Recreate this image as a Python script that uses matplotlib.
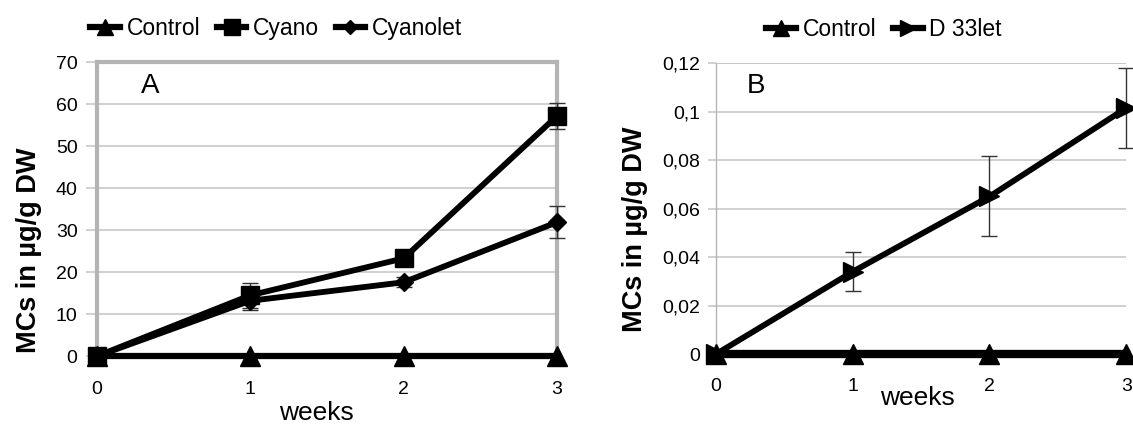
import numpy as np
import matplotlib.pyplot as plt
from matplotlib.lines import Line2D

plt.rcParams['font.family'] = ['Liberation Sans', 'DejaVu Sans']

weeks = [0, 1, 2, 3]

# panel A
control_a = [0, 0, 0, 0]
cyano = [0, 14.5, 23.3, 57.2]
cyano_err = [0, 3.0, 0, 3.1]
cyanolet = [0, 13.2, 17.6, 31.9]
cyanolet_err = [0, 2.2, 1.2, 3.8]

# panel B
control_b = [0, 0, 0, 0]
d33let = [0, 0.034, 0.065, 0.1015]
d33let_err = [0, 0.008, 0.0165, 0.0165]
b_ticklabels = ['0', '0,02', '0,04', '0,06', '0,08', '0,1', '0,12']

grid_col = '#c8c8c8'
frame_col = '#b4b4b4'


def leg_handle(marker, ms):
    return Line2D([], [], color='black', lw=4.5, marker=marker, ms=ms)


fig = plt.figure(figsize=(11.33, 4.24), dpi=100)
axA = fig.add_axes([0.0856, 0.160, 0.406, 0.693])
axB = fig.add_axes([0.632, 0.165, 0.362, 0.686])

# ---- panel A
axA.errorbar(weeks, cyano, yerr=cyano_err, color='black', lw=4.2, marker='s', ms=13,
             ecolor='#333333', elinewidth=1, capsize=6, capthick=1,
             clip_on=False, zorder=4)
axA.errorbar(weeks, cyanolet, yerr=cyanolet_err, color='black', lw=4.2, marker='D', ms=9,
             ecolor='#333333', elinewidth=1, capsize=6, capthick=1,
             clip_on=False, zorder=4)
axA.plot(weeks, control_a, color='black', lw=4.5, marker='^', ms=14,
         clip_on=False, zorder=3)
axA.set_xlim(0, 3)
axA.set_ylim(0, 70)
axA.set_yticks(np.arange(0, 71, 10))
axA.set_xticks(weeks)
axA.grid(axis='y', color=grid_col, lw=1.2)
axA.set_axisbelow(True)
for s in ['left', 'top', 'right']:
    axA.spines[s].set_color(frame_col)
    axA.spines[s].set_linewidth(3)
axA.spines['bottom'].set_visible(False)
axA.tick_params(axis='y', length=8, width=1.2, color=grid_col, labelsize=14, pad=6)
axA.tick_params(axis='x', length=0, labelsize=14, pad=18)
axA.set_xlabel('weeks', fontsize=19, labelpad=2)
axA.xaxis.label.set_x(0.478)
axA.set_ylabel('MCs in µg/g DW', fontsize=19.5, fontweight='bold', labelpad=10)
axA.yaxis.label.set_y(0.36)
axA.text(0.115, 0.92, 'A', transform=axA.transAxes, fontsize=20,
         ha='center', va='center')
axA.legend([leg_handle('^', 11), leg_handle('s', 11), leg_handle('D', 7)],
           ['Control', 'Cyano', 'Cyanolet'], loc='center',
           bbox_to_anchor=(0.39, 1.115), ncol=3, frameon=False, fontsize=16.5,
           handlelength=1.3, handletextpad=0.3, columnspacing=0.7)

# ---- panel B
axB.errorbar(weeks, d33let, yerr=d33let_err, color='black', lw=4.2, marker='>', ms=14,
             ecolor='#333333', elinewidth=1, capsize=6, capthick=1,
             clip_on=False, zorder=4)
axB.plot(weeks, control_b, color='black', lw=6, marker='^', ms=14,
         clip_on=False, zorder=3)
axB.set_xlim(0, 3)
axB.set_ylim(0, 0.12)
axB.set_yticks(np.arange(0, 0.121, 0.02))
axB.set_yticklabels(b_ticklabels)
axB.set_xticks(weeks)
axB.grid(axis='y', color=grid_col, lw=1.2)
axB.set_axisbelow(True)
axB.spines['left'].set_color(frame_col)
axB.spines['left'].set_linewidth(1)
for s in ['top', 'right', 'bottom']:
    axB.spines[s].set_visible(False)
axB.axhline(0.12, color=grid_col, lw=1.2, zorder=0)
axB.tick_params(axis='y', length=6, width=1.2, color=grid_col, labelsize=14, pad=5.5)
axB.tick_params(axis='x', length=0, labelsize=14, pad=17)
axB.set_xlabel('weeks', fontsize=19, labelpad=-6)
axB.xaxis.label.set_x(0.49)
axB.set_ylabel('MCs in µg/g DW', fontsize=19.5, fontweight='bold', labelpad=10)
axB.yaxis.label.set_y(0.43)
axB.text(0.098, 0.92, 'B', transform=axB.transAxes, fontsize=20,
         ha='center', va='center')
axB.legend([leg_handle('^', 11), leg_handle('>', 11)],
           ['Control', 'D 33let'], loc='center',
           bbox_to_anchor=(0.41, 1.115), ncol=2, frameon=False, fontsize=16.5,
           handlelength=1.3, handletextpad=0.3, columnspacing=0.7)

fig.savefig('out.png', dpi=100)
